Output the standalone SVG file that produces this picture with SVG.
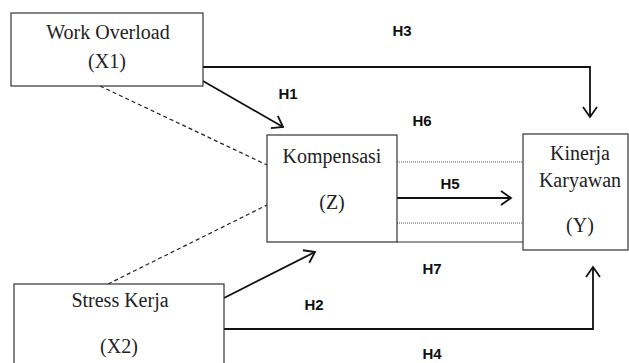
<svg xmlns="http://www.w3.org/2000/svg" width="629" height="363" viewBox="0 0 629 363">
<style>
.box{fill:#fff;stroke:#333;stroke-width:1.2}
.t{font-family:"Liberation Serif","Times New Roman",serif;font-size:20px;fill:#222;text-anchor:middle}
.h{font-family:"Liberation Sans",Arial,sans-serif;font-size:15px;font-weight:bold;fill:#111;text-anchor:middle}
.arr{fill:none;stroke:#111;stroke-width:1.8}
.dash{fill:none;stroke:#222;stroke-width:1.2;stroke-dasharray:4 3}
.dot{fill:none;stroke:#555;stroke-width:1;stroke-dasharray:1 1}
.solid{fill:none;stroke:#333;stroke-width:1.2}
</style>
<defs>
<marker id="v" markerUnits="userSpaceOnUse" markerWidth="20" markerHeight="20" refX="12" refY="8" orient="auto">
<path d="M2,1 L12,8 L2,15" fill="none" stroke="#111" stroke-width="1.8"/>
</marker>
</defs>
<g id="connectors">
<path class="arr" d="M203,67 H590 V117" marker-end="url(#v)"/>
<path class="arr" d="M224,329 H593 V267" marker-end="url(#v)"/>
<path class="arr" d="M203,81 L283,127" marker-end="url(#v)"/>
<path class="arr" d="M224,298 L315,252" marker-end="url(#v)"/>
<path class="arr" d="M397,198 H511" marker-end="url(#v)"/>
<path class="dash" d="M100,86 L267,165"/>
<path class="dash" d="M108,284 L267,205"/>
<path class="dot" d="M397,162 H523"/>
<path class="dot" d="M397,223 H523"/>
<path class="solid" d="M397,242 H523"/>
</g>
<g id="labels">
<text class="h" x="402" y="36">H3</text>
<text class="h" x="288" y="99">H1</text>
<text class="h" x="422" y="126">H6</text>
<text class="h" x="450" y="189">H5</text>
<text class="h" x="432" y="274">H7</text>
<text class="h" x="314" y="310">H2</text>
<text class="h" x="432" y="359">H4</text>
</g>
<g id="x1">
<rect class="box" x="11" y="13" width="192" height="73"/>
<text class="t" x="108" y="39">Work Overload</text>
<text class="t" x="107" y="68">(X1)</text>
</g>
<g id="z">
<rect class="box" x="267" y="135" width="130" height="107"/>
<text class="t" x="332" y="163">Kompensasi</text>
<text class="t" x="332" y="209">(Z)</text>
</g>
<g id="y">
<rect class="box" x="523" y="134" width="105" height="116"/>
<text class="t" x="580" y="160">Kinerja</text>
<text class="t" x="580" y="187">Karyawan</text>
<text class="t" x="580" y="232">(Y)</text>
</g>
<g id="x2">
<rect class="box" x="14" y="284" width="210" height="90"/>
<text class="t" x="120" y="307">Stress Kerja</text>
<text class="t" x="119" y="353">(X2)</text>
</g>
</svg>
